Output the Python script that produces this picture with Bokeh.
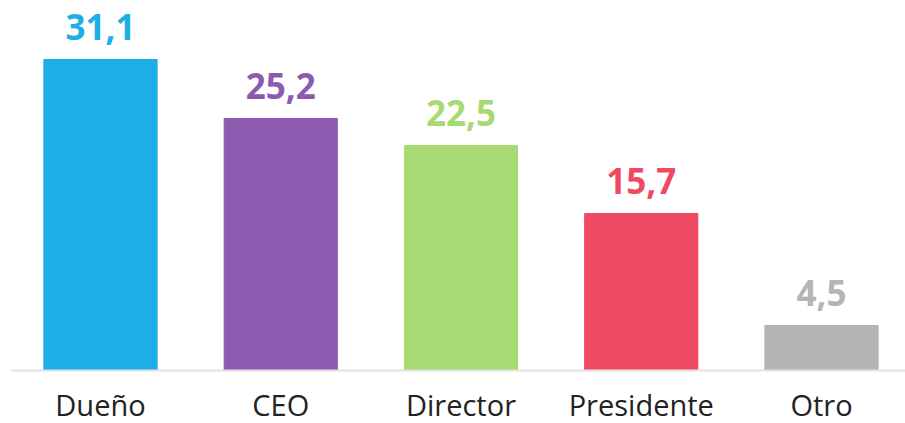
from bokeh.plotting import figure
from bokeh.models import ColumnDataSource, Range1d, LabelSet, Span
from bokeh.core.properties import value
from bokeh.embed import file_html
from bokeh.resources import INLINE

categories = ["Dueño", "CEO", "Director", "Presidente", "Otro"]
values = [31.1, 25.2, 22.5, 15.7, 4.5]
colors = ["#1CAEE4", "#8C5BB0", "#A8DA74", "#F04962", "#B4B4B4"]
labels = [f"{v:.1f}".replace(".", ",") for v in values]

xs = list(range(len(categories)))
src = ColumnDataSource(dict(x=xs, top=values, color=colors, label=labels,
                            cat=categories, zero=[0] * len(xs)))

p = figure(width=905, height=423, output_backend="svg", toolbar_location=None,
           x_range=Range1d(-0.4993, 4.466), y_range=Range1d(-5.3, 37.0),
           min_border_left=10, min_border_right=0, min_border_top=0, min_border_bottom=0)
p.outline_line_color = None
p.grid.grid_line_color = None
p.xaxis.visible = False
p.yaxis.visible = False

p.vbar(x="x", top="top", bottom=0, width=0.628, color="color", source=src)
p.add_layout(Span(location=0, dimension="width", line_color="#E2E2E2", line_width=2))

p.add_layout(LabelSet(x="x", y="top", text="label", text_color="color", source=src,
                      text_align="center", text_baseline="alphabetic", y_offset=20,
                      text_font=value("Open Sans"), text_font_style="bold",
                      text_font_size="35px"))
p.add_layout(LabelSet(x="x", y="zero", text="cat", source=src, text_color="#222222",
                      text_align="center", text_baseline="alphabetic", y_offset=-45,
                      text_font=value("Open Sans"), text_font_size="29px"))

open("out.html", "w").write(file_html(p, INLINE))
